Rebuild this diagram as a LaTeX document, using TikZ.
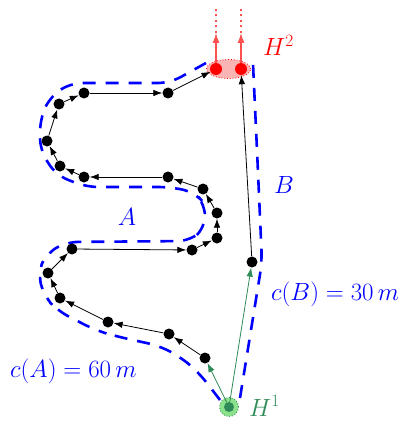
\documentclass[tikz,border=0pt]{standalone}
\usetikzlibrary{arrows.meta,shapes.geometric}
\definecolor{dgreen}{RGB}{46,139,87}
\definecolor{lgreen}{RGB}{140,225,140}
\definecolor{pinkred}{RGB}{250,180,180}
\definecolor{tipred}{RGB}{255,80,80}
\begin{document}
\begin{tikzpicture}[x=1pt,y=-1pt,
  dot/.style={circle,fill=black,inner sep=0pt,minimum size=11pt},
  rdot/.style={circle,fill=red,inner sep=0pt,minimum size=12pt},
  gdot/.style={circle,fill=dgreen,inner sep=0pt,minimum size=10pt},
  arr/.style={-{Latex[length=9pt,width=6.5pt]},line width=0.8pt,black},
  garr/.style={-{Latex[length=9pt,width=6.5pt]},line width=0.8pt,dgreen},
  rarr/.style={-{Latex[length=10pt,width=7pt]},line width=1.2pt,tipred},
  rdots/.style={line width=1.2pt,tipred,dash pattern=on 2pt off 3.5pt},
  contour/.style={blue,line width=2.6pt,dash pattern=on 13pt off 10pt,rounded corners=12pt},
  lab/.style={font=\fontsize{26}{30}\selectfont,inner sep=0pt}
]
\useasboundingbox (0,0) rectangle (398,425);

% contours
\draw[contour] (220,400) -- (200,374) -- (182,358) -- (160,346) -- (115,336) -- (95,330)
  -- (58,311) -- (44,296) -- (38,273) -- (46,254) -- (66,242) -- (190,241) -- (205,228)
  -- (205,204) -- (194,192) -- (170,187) -- (86,187) -- (56,175) -- (40,150) -- (40,120)
  -- (49,98) -- (70,83) -- (170,83) -- (206,63);
\draw[contour] (240,398) -- (262,262) -- (257,150) -- (253,64);

% H2 region
\node[ellipse,minimum width=44pt,minimum height=19pt,inner sep=0pt,fill=pinkred,draw=red,dotted,line width=0.8pt] (H2reg) at (228.5,69) {};
\node[rdot] (H2a) at (216,69) {};
\node[rdot] (H2b) at (241,69) {};
\coordinate (ta1) at (216,33);
\coordinate (ta2) at (241,33);
\coordinate (tb1) at (216,9);
\coordinate (tb2) at (241,9);
\draw[rarr] (H2a) -- (ta1);
\draw[rarr] (H2b) -- (ta2);
\draw[rdots] (ta1) -- (tb1);
\draw[rdots] (ta2) -- (tb2);

% H1
\node[circle,minimum size=19pt,inner sep=0pt,fill=lgreen,draw=dgreen,dotted,line width=0.8pt] (H1reg) at (229,407) {};
\node[gdot] (H1) at (229,407) {};

% path A nodes
\node[dot] (a1) at (205,358) {};
\node[dot] (a2) at (169,334) {};
\node[dot] (a3) at (108,322) {};
\node[dot] (a4) at (60,298) {};
\node[dot] (a5) at (48,273) {};
\node[dot] (a6) at (72,249) {};
\node[dot] (a7) at (192,250) {};
\node[dot] (a8) at (217,238) {};
\node[dot] (a9) at (217,213) {};
\node[dot] (a10) at (203,189) {};
\node[dot] (a11) at (168,177) {};
\node[dot] (a12) at (84,177) {};
\node[dot] (a13) at (60,166) {};
\node[dot] (a14) at (47,141) {};
\node[dot] (a15) at (59,104) {};
\node[dot] (a16) at (84,93) {};
\node[dot] (a17) at (168,93) {};
% path B node
\node[dot] (b1) at (252,262) {};

\draw[garr] (H1) -- (a1);
\draw[arr] (a1) -- (a2);
\draw[arr] (a2) -- (a3);
\draw[arr] (a3) -- (a4);
\draw[arr] (a4) -- (a5);
\draw[arr] (a5) -- (a6);
\draw[arr] (a6) -- (a7);
\draw[arr] (a7) -- (a8);
\draw[arr] (a8) -- (a9);
\draw[arr] (a9) -- (a10);
\draw[arr] (a10) -- (a11);
\draw[arr] (a11) -- (a12);
\draw[arr] (a12) -- (a13);
\draw[arr] (a13) -- (a14);
\draw[arr] (a14) -- (a15);
\draw[arr] (a15) -- (a16);
\draw[arr] (a16) -- (a17);
\draw[arr] (a17) -- (H2a);
\draw[garr] (H1) -- (b1);
\draw[arr] (b1) -- (H2b);

% labels
\node[lab,red,anchor=base west] (lH2) at (263,56) {$H^2$};
\node[lab,dgreen,anchor=base west] (lH1) at (249,416) {$H^1$};
\node[lab,blue] (lA) at (127,217) {$A$};
\node[lab,blue] (lB) at (284,185) {$B$};
\node[lab,blue,anchor=base west] (lcA) at (10,377) {$c(A)=60\,m$};
\node[lab,blue,anchor=base west] (lcB) at (271,300) {$c(B)=30\,m$};
\end{tikzpicture}
\end{document}
